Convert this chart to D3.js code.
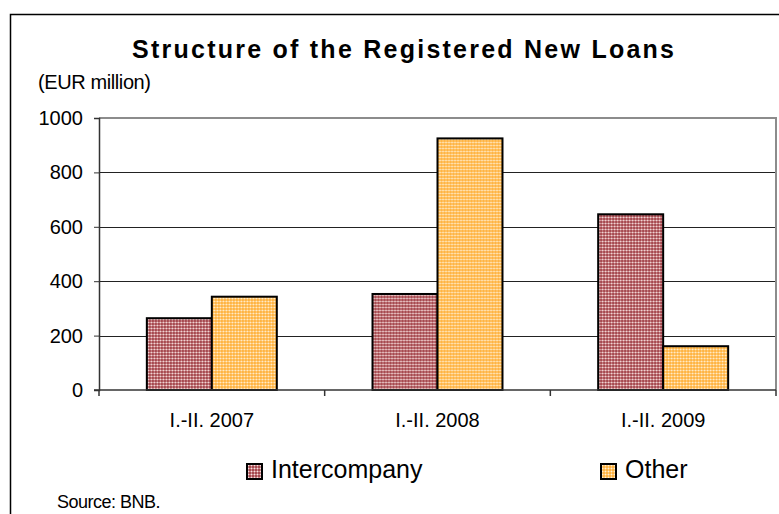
<!DOCTYPE html>
<html>
<head>
<meta charset="utf-8">
<script src="https://cdn.jsdelivr.net/npm/d3@7"></script>
<style>
  body { margin: 0; background: #fff; }
  text { font-family: "Liberation Sans", Arial, sans-serif; fill: #000; }
</style>
</head>
<body>
<div id="chart"></div>
<script>
// data
var categories = ["I.-II. 2007", "I.-II. 2008", "I.-II. 2009"];
var seriesNames = ["Intercompany", "Other"];
var intercompany = [264, 353, 646];
var other = [343, 925, 161];
var yTicks = [0, 200, 400, 600, 800, 1000];

var svgWidth = 779;
var svgHeight = 514;

var plot = { left: 99, right: 776, top: 118, bottom: 390 };

var svg = d3.select("#chart")
  .append("svg")
  .attr("width", svgWidth)
  .attr("height", svgHeight);

// patterns for the bars
var defs = svg.append("defs");

var p1 = defs.append("pattern")
  .attr("id", "patInter")
  .attr("patternUnits", "userSpaceOnUse")
  .attr("width", 3).attr("height", 3);
p1.append("rect").attr("width", 3).attr("height", 3).attr("fill", "#a64a50");
p1.append("rect").attr("x", 1).attr("y", 0).attr("width", 1).attr("height", 3).attr("fill", "#cb8a8d");
p1.append("rect").attr("x", 0).attr("y", 1).attr("width", 3).attr("height", 1).attr("fill", "#cb8a8d");
p1.append("rect").attr("x", 1).attr("y", 1).attr("width", 1).attr("height", 1).attr("fill", "#f6e2e2");

var p2 = defs.append("pattern")
  .attr("id", "patOther")
  .attr("patternUnits", "userSpaceOnUse")
  .attr("width", 3).attr("height", 3);
p2.append("rect").attr("width", 3).attr("height", 3).attr("fill", "#ffb443");
p2.append("rect").attr("x", 1).attr("y", 0).attr("width", 1).attr("height", 3).attr("fill", "#ffcb7c");
p2.append("rect").attr("x", 0).attr("y", 1).attr("width", 3).attr("height", 1).attr("fill", "#ffcb7c");
p2.append("rect").attr("x", 1).attr("y", 1).attr("width", 1).attr("height", 1).attr("fill", "#fff0d4");

var fills = ["url(#patInter)", "url(#patOther)"];

// outer frame
svg.append("rect")
  .attr("x", 10.5).attr("y", 14.5)
  .attr("width", 780).attr("height", 520)
  .attr("fill", "none")
  .attr("stroke", "#000")
  .attr("stroke-width", 1.5);

// scales
var x0 = d3.scaleBand()
  .domain(categories)
  .range([plot.left, plot.right])
  .paddingInner(0.424)
  .paddingOuter(0.212);

var x1 = d3.scaleBand()
  .domain(seriesNames)
  .range([0, x0.bandwidth()]);

var y = d3.scaleLinear()
  .domain([0, 1000])
  .range([plot.bottom, plot.top]);

// gridlines
svg.append("g")
  .selectAll("line")
  .data(yTicks.filter(d => d > 0 && d < 1000))
  .enter()
  .append("line")
  .attr("x1", plot.left).attr("x2", plot.right)
  .attr("y1", d => Math.round(y(d)) + 0.5)
  .attr("y2", d => Math.round(y(d)) + 0.5)
  .attr("stroke", "#222")
  .attr("stroke-width", 1);

// plot border top and right (grey)
svg.append("path")
  .attr("d", `M${plot.left},${y(1000)}H${plot.right}V${plot.bottom}`)
  .attr("fill", "none")
  .attr("stroke", "#8c8c8c")
  .attr("stroke-width", 2);

// bars
var rows = categories.map(function(c, i) {
  return { cat: c, values: [intercompany[i], other[i]] };
});

var groups = svg.append("g")
  .selectAll("g")
  .data(rows)
  .enter()
  .append("g")
  .attr("transform", d => `translate(${x0(d.cat)},0)`);

groups.selectAll("rect")
  .data(d => d.values.map((v, j) => ({ name: seriesNames[j], value: v, j: j })))
  .enter()
  .append("rect")
  .attr("x", d => x1(d.name))
  .attr("y", d => y(d.value))
  .attr("width", x1.bandwidth())
  .attr("height", d => y(0) - y(d.value))
  .attr("fill", d => fills[d.j])
  .attr("stroke", "#000")
  .attr("stroke-width", 2);

// y axis
var leftAxis = d3.axisLeft(y)
  .tickValues(yTicks)
  .tickSize(5)
  .tickPadding(11)
  .tickFormat(d3.format("d"));

var yAxisG = svg.append("g")
  .attr("transform", `translate(${plot.left},0)`)
  .call(leftAxis);
yAxisG.select(".domain").attr("stroke", "#333").attr("stroke-width", 1.5);
yAxisG.selectAll(".tick line").attr("stroke", "#333");
yAxisG.selectAll("text")
  .attr("font-size", 20)
  .attr("font-family", "Liberation Sans, Arial, sans-serif")
  .attr("fill", "#000");

// x axis with ticks between categories
var xAxisG = svg.append("g")
  .attr("transform", `translate(0,${plot.bottom})`);
xAxisG.append("line")
  .attr("x1", plot.left - 5).attr("x2", plot.right)
  .attr("y1", 0).attr("y2", 0)
  .attr("stroke", "#333").attr("stroke-width", 1.5);
var boundaries = [plot.left].concat(categories.map(c => x0(c) + x0.bandwidth() + x0.step() * x0.paddingOuter()));
xAxisG.selectAll(".sep")
  .data(boundaries)
  .enter()
  .append("line")
  .attr("class", "sep")
  .attr("x1", d => d).attr("x2", d => d)
  .attr("y1", 0).attr("y2", 6)
  .attr("stroke", "#333").attr("stroke-width", 1.5);
xAxisG.selectAll(".lab")
  .data(categories)
  .enter()
  .append("text")
  .attr("class", "lab")
  .attr("x", d => x0(d) + x0.bandwidth() / 2)
  .attr("y", 37)
  .attr("text-anchor", "middle")
  .attr("font-size", 20)
  .text(d => d);

// title and unit
svg.append("text")
  .attr("x", 403)
  .attr("y", 58)
  .attr("text-anchor", "middle")
  .attr("font-size", 25)
  .attr("font-weight", "bold")
  .attr("textLength", 542)
  .attr("lengthAdjust", "spacing")
  .text("Structure of the Registered New Loans");

svg.append("text")
  .attr("x", 38)
  .attr("y", 89)
  .attr("font-size", 20)
  .attr("letter-spacing", -0.4)
  .text("(EUR million)");

// legend
var legendX = [247, 601];
var legend = svg.append("g")
  .selectAll("g")
  .data(seriesNames)
  .enter()
  .append("g")
  .attr("transform", (d, i) => `translate(${legendX[i]},464)`);
legend.append("rect")
  .attr("width", 15).attr("height", 15)
  .attr("fill", (d, i) => fills[i])
  .attr("stroke", "#000")
  .attr("stroke-width", 2);
legend.append("text")
  .attr("x", 24)
  .attr("y", 14)
  .attr("font-size", 25)
  .text(d => d);

// source
svg.append("text")
  .attr("x", 57)
  .attr("y", 508)
  .attr("font-size", 18)
  .attr("letter-spacing", -0.5)
  .text("Source: BNB.");
</script>
</body>
</html>
